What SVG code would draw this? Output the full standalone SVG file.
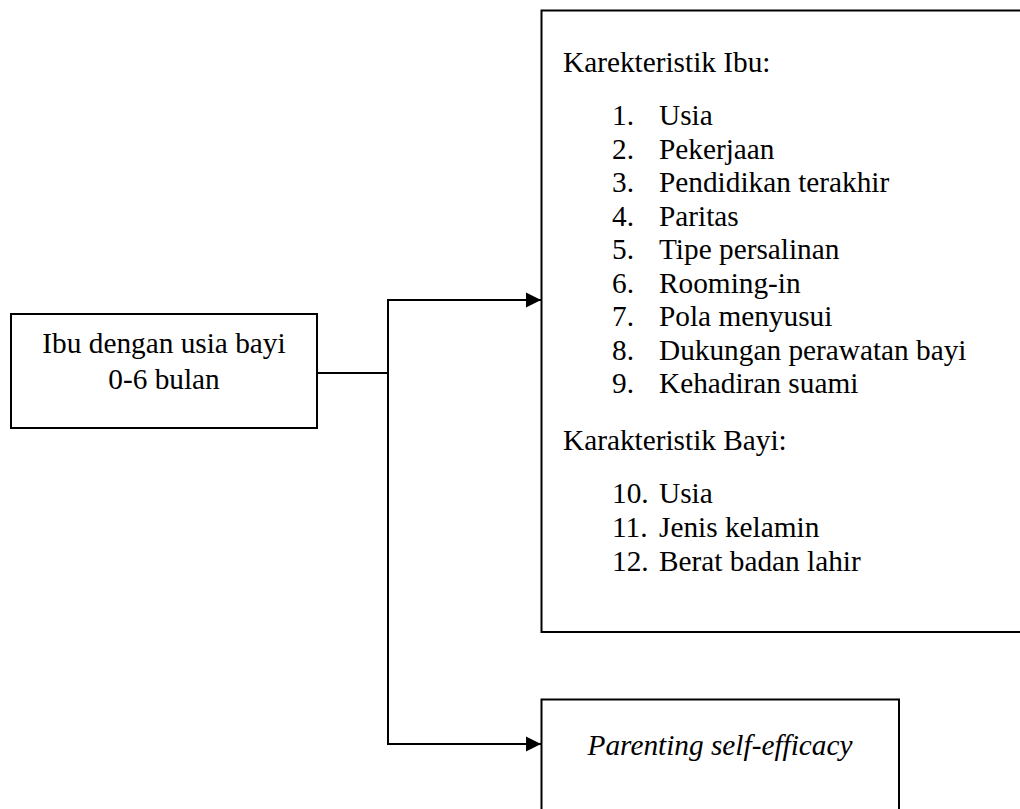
<svg xmlns="http://www.w3.org/2000/svg" width="1020" height="809" viewBox="0 0 1020 809">
<style>
.box{fill:#fff;stroke:#000;stroke-width:2}
.t{font-family:"Liberation Serif","Times New Roman",serif;font-size:29.3px;fill:#000}
.c{fill:none;stroke:#000;stroke-width:2}
</style>
<defs>
<marker id="arr" markerUnits="userSpaceOnUse" markerWidth="16" markerHeight="16" refX="15" refY="8" orient="auto">
<path d="M0,0.5 L15,8 L0,15.5 Z" fill="#000"/>
</marker>
</defs>
<rect width="1020" height="809" fill="#fff"/>
<g id="connectors">
<line class="c" x1="317" y1="373" x2="388" y2="373"/>
<line class="c" x1="388" y1="299" x2="388" y2="745"/>
<line class="c" x1="387" y1="300" x2="541" y2="300" marker-end="url(#arr)"/>
<line class="c" x1="387" y1="744" x2="541" y2="744" marker-end="url(#arr)"/>
</g>
<g id="node-ibu">
<rect class="box" x="11" y="314" width="306" height="114"/>
<text class="t" x="164" y="353" text-anchor="middle">Ibu dengan usia bayi</text>
<text class="t" x="164" y="389" text-anchor="middle">0-6 bulan</text>
</g>
<g id="node-karakteristik">
<rect class="box" x="541.5" y="10.5" width="500" height="621.5"/>
<text class="t" x="563" y="72">Karekteristik Ibu:</text>
<g class="t">
<text x="612" y="125">1.</text><text x="659" y="125">Usia</text>
<text x="612" y="158.5">2.</text><text x="659" y="158.5">Pekerjaan</text>
<text x="612" y="192">3.</text><text x="659" y="192">Pendidikan terakhir</text>
<text x="612" y="225.5">4.</text><text x="659" y="225.5">Paritas</text>
<text x="612" y="259">5.</text><text x="659" y="259">Tipe persalinan</text>
<text x="612" y="292.5">6.</text><text x="659" y="292.5">Rooming-in</text>
<text x="612" y="326">7.</text><text x="659" y="326">Pola menyusui</text>
<text x="612" y="359.5">8.</text><text x="659" y="359.5">Dukungan perawatan bayi</text>
<text x="612" y="393">9.</text><text x="659" y="393">Kehadiran suami</text>
</g>
<text class="t" x="563" y="450">Karakteristik Bayi:</text>
<g class="t">
<text x="612" y="503">10.</text><text x="659" y="503">Usia</text>
<text x="612" y="537">11.</text><text x="659" y="537">Jenis kelamin</text>
<text x="612" y="571">12.</text><text x="659" y="571">Berat badan lahir</text>
</g>
</g>
<g id="node-pse">
<rect class="box" x="541.5" y="699.5" width="357.5" height="130"/>
<text class="t" x="720" y="755" text-anchor="middle" font-style="italic">Parenting self-efficacy</text>
</g>
</svg>
